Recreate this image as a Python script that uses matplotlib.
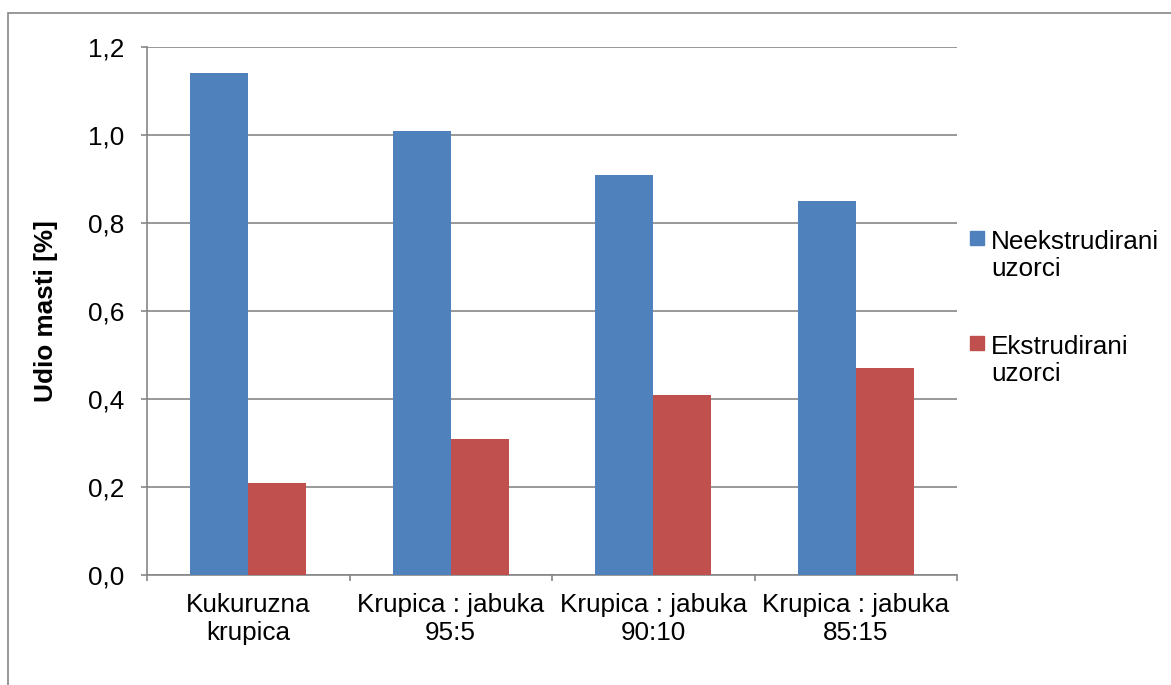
import numpy as np
import matplotlib.pyplot as plt
from matplotlib.patches import Rectangle

# data
categories = ['Kukuruzna\nkrupica', 'Krupica : jabuka\n95:5',
              'Krupica : jabuka\n90:10', 'Krupica : jabuka\n85:15']
neekstrudirani = [1.14, 1.01, 0.91, 0.85]
ekstrudirani = [0.21, 0.31, 0.41, 0.47]
series_names = ['Neekstrudirani\nuzorci', 'Ekstrudirani\nuzorci']
series_colors = ['#4F81BD', '#C0504D']
yticks = [0.0, 0.2, 0.4, 0.6, 0.8, 1.0, 1.2]

plt.rcParams['font.family'] = ['Liberation Sans', 'DejaVu Sans']
fs = 18.8
grey = '#868686'
W, H = 1171, 685

fig = plt.figure(figsize=(W/100, H/100), dpi=100)
ax = fig.add_axes([147/W, 1-575/H, 810/W, 528/H])

x = np.arange(len(categories))
w = 0.286
ax.bar(x - w/2, neekstrudirani, w, color=series_colors[0], zorder=3)
ax.bar(x + w/2, ekstrudirani, w, color=series_colors[1], zorder=3)

ax.set_xlim(-0.5, len(categories) - 0.5)
ax.set_ylim(0, 1.2)
ax.set_yticks(yticks)
ax.set_yticklabels([('%.1f' % v).replace('.', ',') for v in yticks], fontsize=fs)
ax.set_xticks(x)
ax.set_xticklabels(categories, fontsize=fs)
ax.set_xticks(np.arange(len(categories) + 1) - 0.5, minor=True)
ax.tick_params(axis='x', which='major', length=0, pad=13)
ax.tick_params(axis='x', which='minor', length=4.5, color=grey, width=1.2)
ax.tick_params(axis='y', length=4.5, color=grey, width=1.2, pad=12)
ax.yaxis.grid(True, color=grey, lw=1.2, zorder=0)
for s in ['top', 'right']:
    ax.spines[s].set_visible(False)
for s in ['left', 'bottom']:
    ax.spines[s].set_color(grey)
    ax.spines[s].set_linewidth(1.2)

ax.set_ylabel('Udio masti [%]', fontsize=fs, fontweight='bold')
ax.yaxis.set_label_coords(-0.11, 0.5)

# legend: square beside the first line of each label
line_px = 1.2 * fs * 100 / 72
for i, (name, col) in enumerate(zip(series_names, series_colors)):
    base = 245 + i * 105
    fig.patches.append(Rectangle((970/W, 1-base/H), 14/W, 14/H,
                                 transform=fig.transFigure, color=col))
    # va='baseline' refers to the last line, so shift down one line
    fig.text(991/W, 1-(base + line_px)/H, name, fontsize=fs, va='baseline',
             ha='left', linespacing=1.2)

# outer frame (cropped on right and bottom)
fig.patches.append(Rectangle((8/W, -20/H), 1200/W, (H+20-13)/H,
                             transform=fig.transFigure, fill=False,
                             edgecolor=grey, lw=1.2))

fig.savefig('out.png', dpi=100)
